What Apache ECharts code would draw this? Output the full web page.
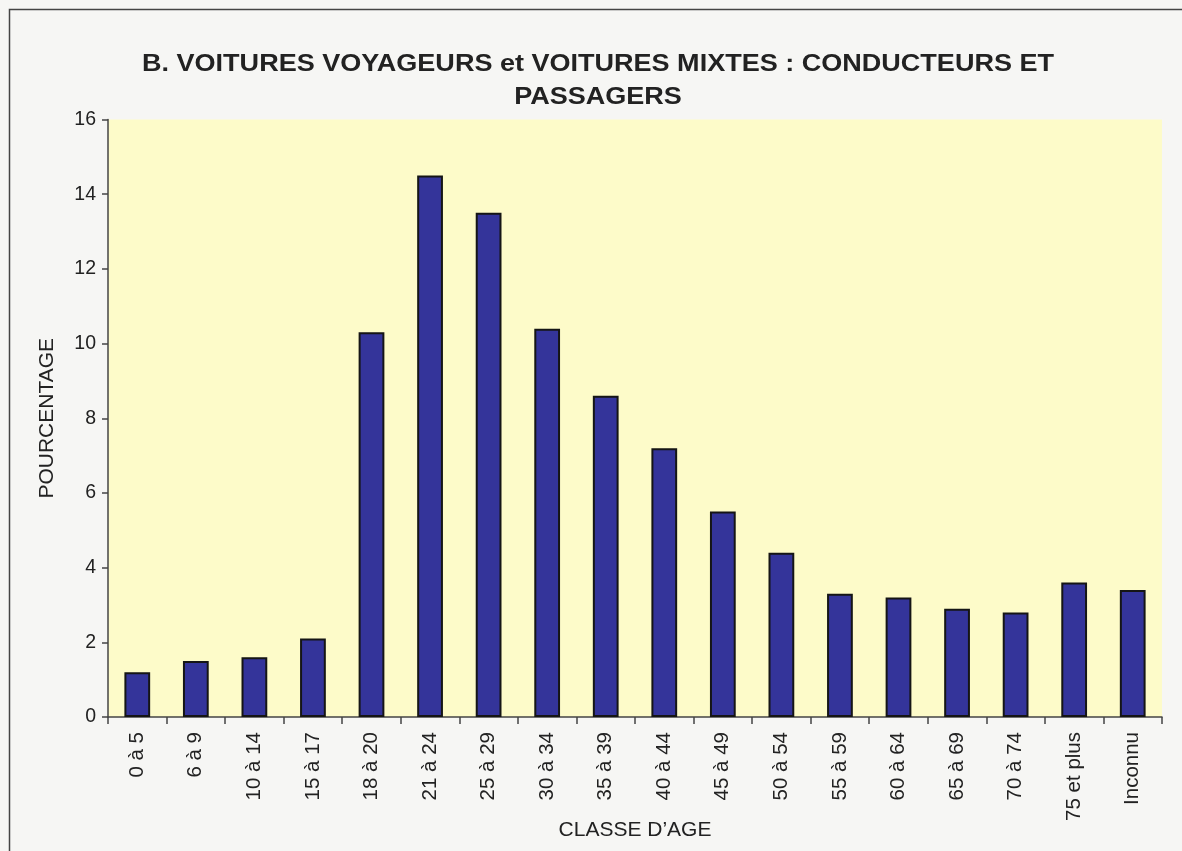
<!DOCTYPE html>
<html>
<head>
<meta charset="utf-8">
<script src="https://cdn.jsdelivr.net/npm/echarts@6/dist/echarts.min.js"></script>
<style>
html,body{margin:0;padding:0;background:#f6f6f4;}
#chart{width:1182px;height:851px;}
</style>
</head>
<body>
<div id="chart"></div>
<script>
const categories = ['0 à 5','6 à 9','10 à 14','15 à 17','18 à 20','21 à 24','25 à 29','30 à 34','35 à 39','40 à 44','45 à 49','50 à 54','55 à 59','60 à 64','65 à 69','70 à 74','75 et plus','Inconnu'];
const pourcentage = [1.2, 1.5, 1.6, 2.1, 10.3, 14.5, 13.5, 10.4, 8.6, 7.2, 5.5, 4.4, 3.3, 3.2, 2.9, 2.8, 3.6, 3.4];
const yTicks = [0, 2, 4, 6, 8, 10, 12, 14, 16];
const titleText = 'B. VOITURES VOYAGEURS et VOITURES MIXTES : CONDUCTEURS ET\nPASSAGERS';
const xName = 'CLASSE D\u2019AGE';
const yName = 'POURCENTAGE';

const chart = echarts.init(document.getElementById('chart'));
const font = '"Liberation Sans", Arial, sans-serif';
chart.setOption({
  backgroundColor: '#f6f6f4',
  animation: false,
  graphic: [
    { type: 'rect', silent: true, z: -10,
      shape: { x: 9.5, y: 9.5, width: 1200, height: 900 },
      style: { fill: 'none', stroke: '#444', lineWidth: 1.5 } },
    { type: 'text', silent: true, x: 598, y: 48, scaleX: 1.15,
      style: { x: 0, y: 0, text: titleText, align: 'center', verticalAlign: 'top',
        font: 'bold 23.5px ' + font, fill: '#222', lineHeight: 33 } }
  ],
  grid: { left: 108, right: 20, top: 119.5, bottom: 134, show: true,
    outerBoundsMode: 'none', containLabel: false,
    backgroundColor: '#fdfbc9', borderWidth: 0 },
  xAxis: {
    type: 'category', data: categories,
    name: xName, nameLocation: 'middle', nameGap: 103, nameMoveOverlap: false,
    nameTextStyle: { fontFamily: font, fontSize: 21, color: '#222' },
    axisLine: { lineStyle: { color: '#444', width: 1.5 } },
    axisTick: { show: true, alignWithLabel: false, length: 7, lineStyle: { color: '#444', width: 1.5 } },
    axisLabel: { rotate: 90, margin: 15, fontFamily: font, fontSize: 20.5, color: '#222', interval: 0 }
  },
  yAxis: {
    type: 'value', min: yTicks[0], max: yTicks[yTicks.length - 1], interval: yTicks[1] - yTicks[0],
    name: yName, nameLocation: 'middle', nameGap: 50, nameMoveOverlap: false,
    nameTextStyle: { fontFamily: font, fontSize: 21, color: '#222' },
    axisLine: { show: true, lineStyle: { color: '#444', width: 1.5 } },
    axisTick: { show: true, length: 6, lineStyle: { color: '#444', width: 1.5 } },
    axisLabel: { margin: 12, fontFamily: font, fontSize: 19.5, color: '#222' },
    splitLine: { show: false }
  },
  series: [{
    type: 'bar', data: pourcentage, barWidth: '44%',
    itemStyle: { color: '#34349a', borderColor: '#151515', borderWidth: 2 }
  }]
});
</script>
</body>
</html>
